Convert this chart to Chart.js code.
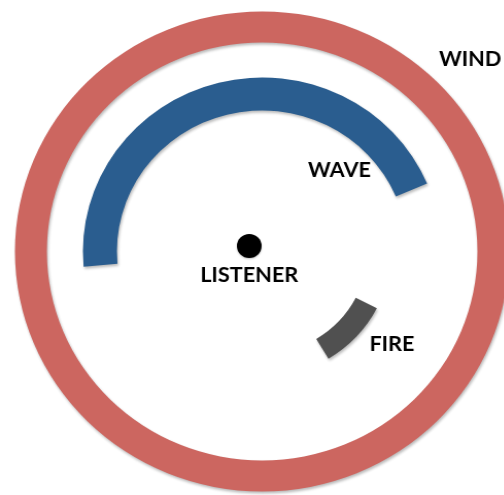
<!DOCTYPE html>
<html>
<head>
<meta charset="utf-8">
<script src="https://cdn.jsdelivr.net/npm/chart.js@4.4.1/dist/chart.umd.min.js"></script>
<style>
  html, body { margin: 0; padding: 0; background: #ffffff; overflow: hidden; width: 504px; height: 495px; }
  #wrap { position: absolute; left: 0; top: 0; width: 490px; height: 495px; transform: scaleX(1.03); transform-origin: 0 0; }
</style>
</head>
<body>
<div id="wrap"><canvas id="c"></canvas></div>
<script>
// ---- data (angles in degrees, clockwise from 12 o'clock) ----
const sources = ['WIND', 'WAVE', 'FIRE'];
const startAngles = [0, 265, 117];
const spans = [360, 162, 32];
const centerLabel = 'LISTENER';

// ---- styles ----
const colors = ['#CC6660', '#2A5D8F', '#505050'];
const ringWeights = [31, 33, 23];   // ring thickness
const gapWeights = [35, 16];        // empty space between rings
const none = 'rgba(0,0,0,0)';

function ring(i) {
  return {
    label: sources[i],
    data: [spans[i], 360 - spans[i]],
    rotation: startAngles[i],
    backgroundColor: [colors[i], none],
    weight: ringWeights[i],
    borderWidth: 0,
    clip: false
  };
}
function gap(i) {
  return { label: 'gap' + i, data: [360], backgroundColor: [none], weight: gapWeights[i], borderWidth: 0, clip: false };
}

const labelOffsets = {            // label centers relative to chart centre
  WIND: [202, -192],
  WAVE: [75, -81],
  FIRE: [126, 93]
};

const overlay = {
  id: 'overlay',
  beforeDatasetsDraw(chart) {
    const ctx = chart.ctx;
    ctx.save();
    ctx.shadowColor = 'rgba(0,0,0,0.28)';
    ctx.shadowBlur = 3;
    ctx.shadowOffsetX = 1;
    ctx.shadowOffsetY = 2;
  },
  afterDatasetsDraw(chart) {
    const ctx = chart.ctx;
    ctx.restore();
    const arc = chart.getDatasetMeta(0).data[0];
    const cx = arc.x, cy = arc.y;
    // listener dot
    ctx.save();
    ctx.shadowColor = 'rgba(0,0,0,0.25)';
    ctx.shadowBlur = 2;
    ctx.shadowOffsetY = 1;
    ctx.fillStyle = '#000000';
    ctx.beginPath();
    ctx.arc(cx - 12.5, cy - 5.5, 12, 0, Math.PI * 2);
    ctx.fill();
    ctx.restore();
    ctx.save();
    ctx.fillStyle = '#000000';
    ctx.font = 'bold 21px Lato';
    ctx.textAlign = 'center';
    ctx.textBaseline = 'middle';
    ctx.fillText(centerLabel, cx - 12.5, cy + 24);
    sources.forEach(s => {
      const o = labelOffsets[s];
      ctx.fillText(s, cx + o[0], cy + o[1]);
    });
    ctx.restore();
  }
};

new Chart(document.getElementById('c'), {
  type: 'doughnut',
  data: {
    labels: ['arc', 'rest'],
    datasets: [ring(0), gap(0), ring(1), gap(1), ring(2)]
  },
  options: {
    responsive: true,
    maintainAspectRatio: false,
    animation: false,
    events: [],
    radius: 240,
    cutout: '42.5%',
    layout: { padding: { left: 19, top: 8, right: 0, bottom: 0 } },
    plugins: { legend: { display: false }, tooltip: { enabled: false } }
  },
  plugins: [overlay]
});
</script>
</body>
</html>
